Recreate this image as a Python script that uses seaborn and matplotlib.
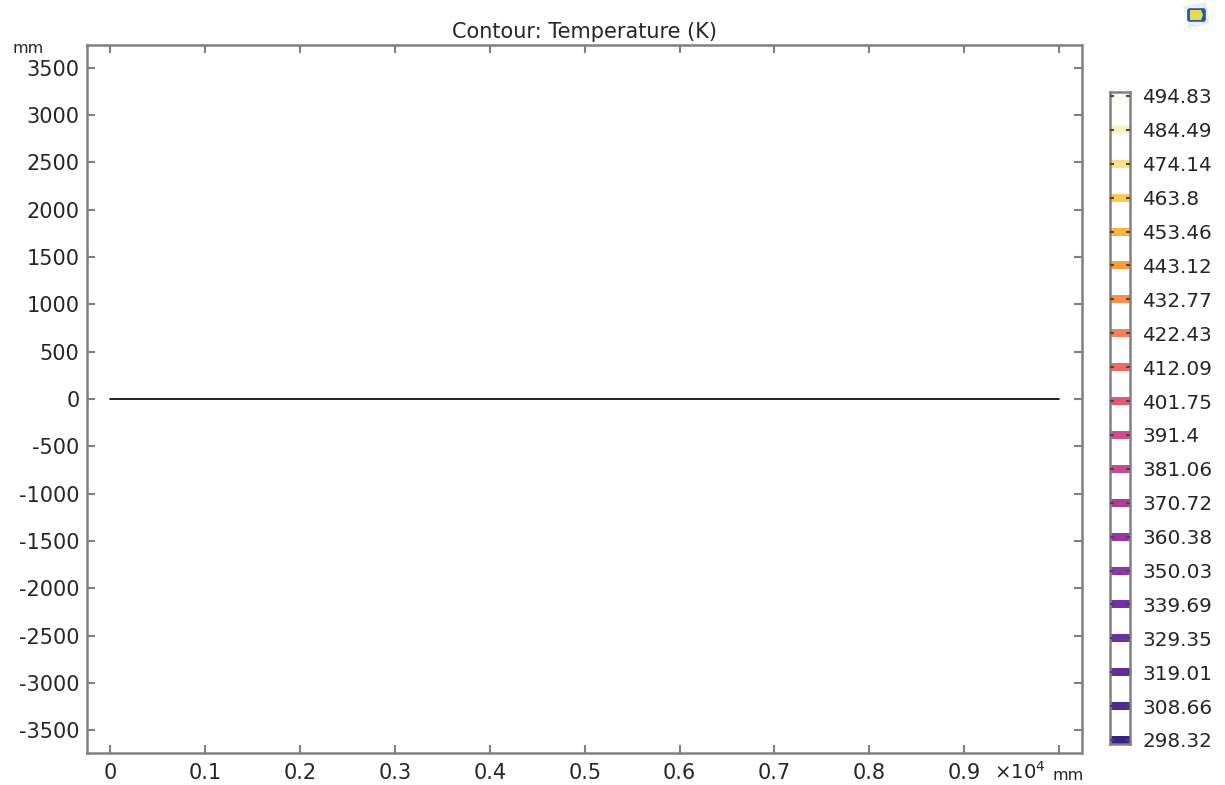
# Contour plot of temperature, line at y=0 with level colorbar
import matplotlib
matplotlib.use('Agg')
import matplotlib.pyplot as plt
from matplotlib.patches import Polygon, FancyBboxPatch
import pandas as pd
import seaborn as sns

line_x = [0, 10000]
line_y = [0, 0]
x_ticks = [0, 1000, 2000, 3000, 4000, 5000, 6000, 7000, 8000, 9000, 10000]
x_labels = ['0', '0.1', '0.2', '0.3', '0.4', '0.5', '0.6', '0.7', '0.8', '0.9', '']
y_ticks = [3500, 3000, 2500, 2000, 1500, 1000, 500, 0, -500, -1000, -1500, -2000, -2500, -3000, -3500]
levels = [494.83, 484.49, 474.14, 463.8, 453.46, 443.12, 432.77, 422.43, 412.09, 401.75,
          391.4, 381.06, 370.72, 360.38, 350.03, 339.69, 329.35, 319.01, 308.66, 298.32]
level_colors = ['#fffcee', '#fdf0c0', '#fbdf8a', '#fbcb55', '#fbb43c', '#fb9e3c', '#fb8e48', '#f97f58',
                '#ee6c62', '#e05a76', '#d24c88', '#c84a94', '#ac3e9a', '#9a36a2', '#8838a6', '#7430a4',
                '#6a30a6', '#5c2ca0', '#4c2a98', '#3a2184']

W, H = 1225, 785


def px_axes(left, top, right, bottom):
    return fig.add_axes([left / W, 1 - bottom / H, (right - left) / W, (bottom - top) / H])


sns.set_theme(style='white')
plt.rcParams['font.family'] = ['DejaVu Sans']
grey = '#808080'
text_col = '#262626'

fig = plt.figure(figsize=(12.25, 7.85), dpi=100)

# main axes
ax = px_axes(86.5, 45, 1081.5, 753)
sns.lineplot(data=pd.DataFrame({'x': line_x, 'y': line_y}), x='x', y='y', color='black', lw=1.2, ax=ax)
ax.set_xlim(-253, 10237)
ax.set_ylim(-3742, 3742)
ax.set_xticks(x_ticks, x_labels)
ax.set_yticks(y_ticks, [str(v) for v in y_ticks])
ax.tick_params(axis='both', direction='in', length=5.5, width=1.5, color=grey, labelcolor=text_col,
               labelsize=15, top=True, right=True, bottom=True, left=True, pad=5)
ax.tick_params(axis='x', pad=7)
ax.set_xlabel('')
ax.set_ylabel('')
for s in ax.spines.values():
    s.set_color(grey)
    s.set_linewidth(1.8)
ax.set_title('Contour: Temperature (K)', fontsize=15, color=text_col, pad=5)

fig.text(13 / W, 1 - 53 / H, 'mm', fontsize=11.5, color=text_col)
fig.text(994 / W, 1 - 779 / H, r'$\times$10$^4$', fontsize=14.2, color=text_col)
fig.text(1052 / W, 1 - 780 / H, 'mm', fontsize=11.5, color=text_col)

# colorbar with one band per level
cb = px_axes(1110, 92, 1130, 744)
px_val = (levels[0] - levels[-1]) / (740 - 96)
cb.set_axisbelow(False)
cb.barh(levels, [1] * len(levels), height=8 * px_val, color=level_colors, linewidth=0)
cb.set_xlim(0, 1)
cb.set_ylim(levels[-1] - 4 * px_val, levels[0] + 4 * px_val)
cb.set_xticks([])
cb.set_yticks(levels, [str(v) for v in levels])
cb.tick_params(axis='y', direction='in', length=3, width=1.5, color='#4a4a4a', labelcolor=text_col,
               labelsize=14.4, left=True, right=True, labelleft=False, labelright=True, pad=9)
for s in cb.spines.values():
    s.set_color(grey)
    s.set_linewidth(1.8)

# logo in the top right corner
logo = px_axes(1183, 1, 1211, 29)
logo.set_xlim(0, 28)
logo.set_ylim(28, 0)
logo.axis('off')
logo.add_patch(Polygon([[0, 5], [23, 1], [27, 22], [6, 28]], closed=True, fc='#ecedf0', ec='none'))
logo.add_patch(FancyBboxPatch((4.5, 7.5), 18, 13, boxstyle='round,pad=0.3,rounding_size=2.5', fc='#1a5cb0', ec='none'))
logo.add_patch(Polygon([[7, 9], [18, 9], [20, 14], [18, 19], [7, 19]], closed=True, fc='#e8da50', ec='none'))

fig.savefig('out.png', dpi=100)
